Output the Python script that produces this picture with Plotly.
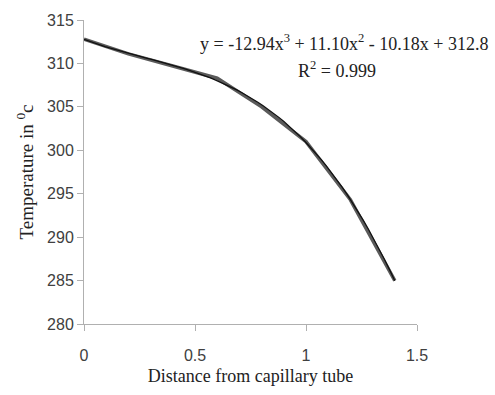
import numpy as np
import plotly.graph_objects as go

distance = [0, 0.2, 0.4, 0.6, 0.8, 1.0, 1.2, 1.4]
temperature = [312.8, 311.1, 309.7, 308.3, 305.0, 301.0, 294.3, 285.0]
x_ticks = [0, 0.5, 1, 1.5]
x_tick_labels = ["0", "0.5", "1", "1.5"]
y_ticks = [280, 285, 290, 295, 300, 305, 310, 315]

coef = np.polyfit(distance, temperature, 3)
xs = np.linspace(min(distance), max(distance), 60)
ys = np.polyval(coef, xs)

fig = go.Figure()
fig.add_trace(go.Scatter(x=distance, y=temperature, mode="lines",
                         line=dict(color="#5a5a5a", width=3.5), showlegend=False))
fig.add_trace(go.Scatter(x=xs, y=ys, mode="lines",
                         line=dict(color="#111111", width=1.3), showlegend=False))

eq_font = dict(family="Liberation Serif", size=18, color="#222")
fig.add_annotation(x=0.781, y=0.926, xref="paper", yref="paper", xanchor="center", yanchor="middle",
                   text="y = -12.94x<sup>3</sup> + 11.10x<sup>2</sup> - 10.18x + 312.8",
                   showarrow=False, font=eq_font)
fig.add_annotation(x=0.760, y=0.836, xref="paper", yref="paper", xanchor="center", yanchor="middle",
                   text="R<sup>2</sup> = 0.999",
                   showarrow=False, font=eq_font)

fig.update_layout(
    width=495, height=395,
    margin=dict(l=84, r=78, t=18, b=68),
    paper_bgcolor="white", plot_bgcolor="white",
    xaxis=dict(range=[0, 1.5], tickvals=x_ticks, ticktext=x_tick_labels,
               showgrid=False, zeroline=False, showline=True, linecolor="#b0b0b0", linewidth=1,
               ticks="outside", ticklen=6, tickcolor="#b0b0b0", ticklabelstandoff=11,
               tickfont=dict(family="Liberation Sans", size=16, color="#404040"),
               title=dict(text="Distance from capillary tube", standoff=6,
                          font=dict(family="Liberation Serif", size=18, color="#222"))),
    yaxis=dict(range=[280, 315], tickvals=y_ticks,
               showgrid=False, zeroline=False, showline=True, linecolor="#b0b0b0", linewidth=1,
               ticks="outside", ticklen=6, tickcolor="#b0b0b0",
               tickfont=dict(family="Liberation Sans", size=16, color="#404040"),
               title=dict(text="Temperature in <sup>0</sup>c", standoff=8,
                          font=dict(family="Liberation Serif", size=19, color="#222"))),
)

fig.write_html("out.html")
